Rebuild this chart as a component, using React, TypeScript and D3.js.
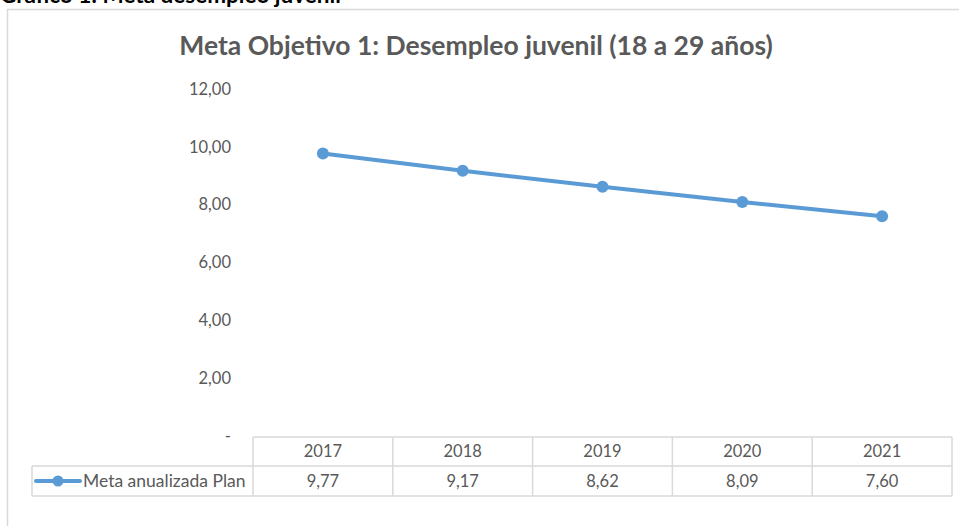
import React from "react";
import * as d3 from "d3";

const categories = ["2017", "2018", "2019", "2020", "2021"];
const values = [9.77, 9.17, 8.62, 8.09, 7.6];
const yTicks = [0, 2, 4, 6, 8, 10, 12];
const seriesName = "Meta anualizada Plan";
const title = "Meta Objetivo 1: Desempleo juvenil (18 a 29 años)";
const heading = "Gráfico 1: Meta desempleo juvenil";

const fmt = (v: number) => (v === 0 ? "-" : v.toFixed(2).replace(".", ","));

export default function App() {
  const W = 959, H = 526;
  const x = d3.scaleBand<string>().domain(categories).range([253, 952]);
  const y = d3.scaleLinear().domain([0, 12]).range([436, 89]);
  const line = d3
    .line<number>()
    .x((_, i) => (x(categories[i]) as number) + x.bandwidth() / 2)
    .y((d) => y(d));
  const grid = "#d9d9d9";
  const txt = "#595959";
  const blue = "#5b9bd5";
  const font = "Lato, 'Open Sans', sans-serif";
  const rowTop = 437, rowMid = 466, rowBot = 496;
  return (
    <svg
      width={W}
      height={H}
      style={{ position: "absolute", left: 0, top: 0, background: "#fff" }}
      fontFamily={font}
    >
      <text x={0} y={3} fontSize={22.5} fontWeight="bold" fill="#000">{heading}</text>
      <path d={`M7.5,${H} V9.5 H${W}`} fill="none" stroke={grid} strokeWidth={1.5} />
      <text x={476} y={55} textAnchor="middle" fontSize={26.5} fontWeight="bold" fill={txt}>{title}</text>
      {yTicks.map((t) => (
        <text key={t} x={231} y={y(t)} dy="0.35em" textAnchor="end" fontSize={16.5} fill={txt}>
          {fmt(t)}
        </text>
      ))}
      {/* data table */}
      <g stroke={grid} strokeWidth={1.5} fill="none">
        <line x1={253} x2={952} y1={rowTop} y2={rowTop} />
        <line x1={32} x2={952} y1={rowMid} y2={rowMid} />
        <line x1={32} x2={952} y1={rowBot} y2={rowBot} />
        <line x1={32} x2={32} y1={rowMid} y2={rowBot} />
        {categories.map((c) => (
          <line key={c} x1={x(c) as number} x2={x(c) as number} y1={rowTop} y2={rowBot} />
        ))}
        <line x1={952} x2={952} y1={rowTop} y2={rowBot} />
      </g>
      {categories.map((c, i) => (
        <g key={c}>
          <text x={(x(c) as number) + x.bandwidth() / 2} y={(rowTop + rowMid) / 2} dy="0.35em" textAnchor="middle" fontSize={16.5} fill={txt}>{c}</text>
          <text x={(x(c) as number) + x.bandwidth() / 2} y={(rowMid + rowBot) / 2} dy="0.35em" textAnchor="middle" fontSize={16.5} fill={txt}>{fmt(values[i])}</text>
        </g>
      ))}
      <line x1={36} x2={80} y1={481} y2={481} stroke={blue} strokeWidth={4} strokeLinecap="round" />
      <circle cx={58} cy={481} r={5.5} fill={blue} />
      <text x={83} y={481} dy="0.35em" fontSize={17.5} fill={txt}>{seriesName}</text>
      <path d={line(values) || ""} fill="none" stroke={blue} strokeWidth={4} strokeLinecap="round" />
      {values.map((v, i) => (
        <circle key={i} cx={(x(categories[i]) as number) + x.bandwidth() / 2} cy={y(v)} r={6} fill={blue} />
      ))}
    </svg>
  );
}
